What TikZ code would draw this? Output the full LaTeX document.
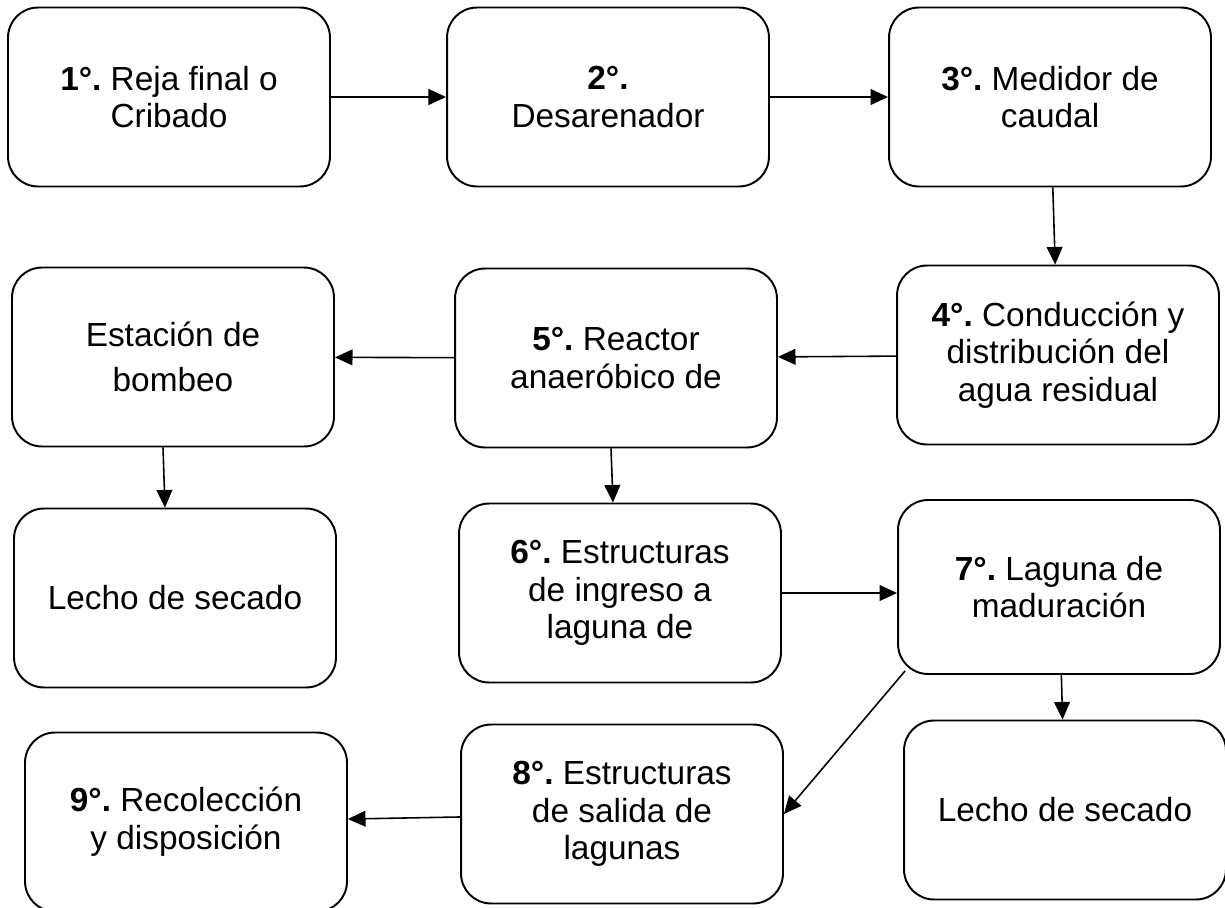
\documentclass[tikz,border=0pt]{standalone}
\usepackage{fontspec}
\setmainfont{Liberation Sans}
\usetikzlibrary{arrows.meta}
\frenchspacing

\begin{document}
\begin{tikzpicture}[x=0.02cm, y=-0.02cm,
    box/.style={draw, line width=1.1pt, rounded corners=0.6cm,
      minimum width=6.44cm, minimum height=3.58cm, inner sep=0pt,
      align=center, font=\fontsize{19}{21.5}\selectfont},
    flow/.style={-{Triangle[length=10pt,width=9pt]}, line width=0.9pt}]
      \useasboundingbox (0,0) rectangle (1225,907);
      % first row
      \node[box] (reja)   at (169, 97)  {\textbf{1°.} Reja final o\\Cribado};
      \node[box] (desar)  at (608, 97)  {\textbf{2°.}\\Desarenador};
      \node[box] (medid)  at (1050, 97) {\textbf{3°.} Medidor de\\caudal};
      % second row
      \node[box] (conduc) at (1058, 355) {\textbf{4°.} Conducción y\\distribución del\\agua residual};
      \node[box] (reactor) at (616, 358) {\textbf{5°.} Reactor\\anaeróbico de};
      \node[box] (bombeo) at (173, 357) {Estación de\\[4pt]bombeo};
      % third row
      \node[box] (lechoa) at (175, 598) {Lecho de secado};
      \node[box] (ingreso) at (620, 593) {\textbf{6°.} Estructuras\\de ingreso a\\laguna de};
      \node[box, minimum height=3.48cm] (madur) at (1059, 587) {\textbf{7°.} Laguna de\\maduración};
      % fourth row
      \node[box] (lechob) at (1065, 810) {Lecho de secado};
      \node[box] (salida) at (622, 814) {\textbf{8°.} Estructuras\\de salida de\\lagunas};
      \node[box] (recol)  at (186, 822) {\textbf{9°.} Recolección\\y disposición};

      \draw[flow] (reja) -- (desar);
      \draw[flow] (desar) -- (medid);
      \draw[flow] (medid) -- (conduc);
      \draw[flow] (conduc) -- (reactor);
      \draw[flow] (reactor) -- (bombeo);
      \draw[flow] ([xshift=-0.2cm]bombeo.south) -- ([xshift=-0.2cm]lechoa.north);
      \draw[flow] ([xshift=-0.1cm]reactor.south) -- ([xshift=-0.14cm]ingreso.north);
      \draw[flow] (ingreso.east) -- (ingreso.east -| madur.west);
      \draw[flow] (madur) -- (lechob);
      \draw[flow] ([xshift=0.16cm,yshift=0.08cm]madur.south west) -- (salida.east);
      \draw[flow] (salida) -- (recol);
    \end{tikzpicture}
\end{document}
